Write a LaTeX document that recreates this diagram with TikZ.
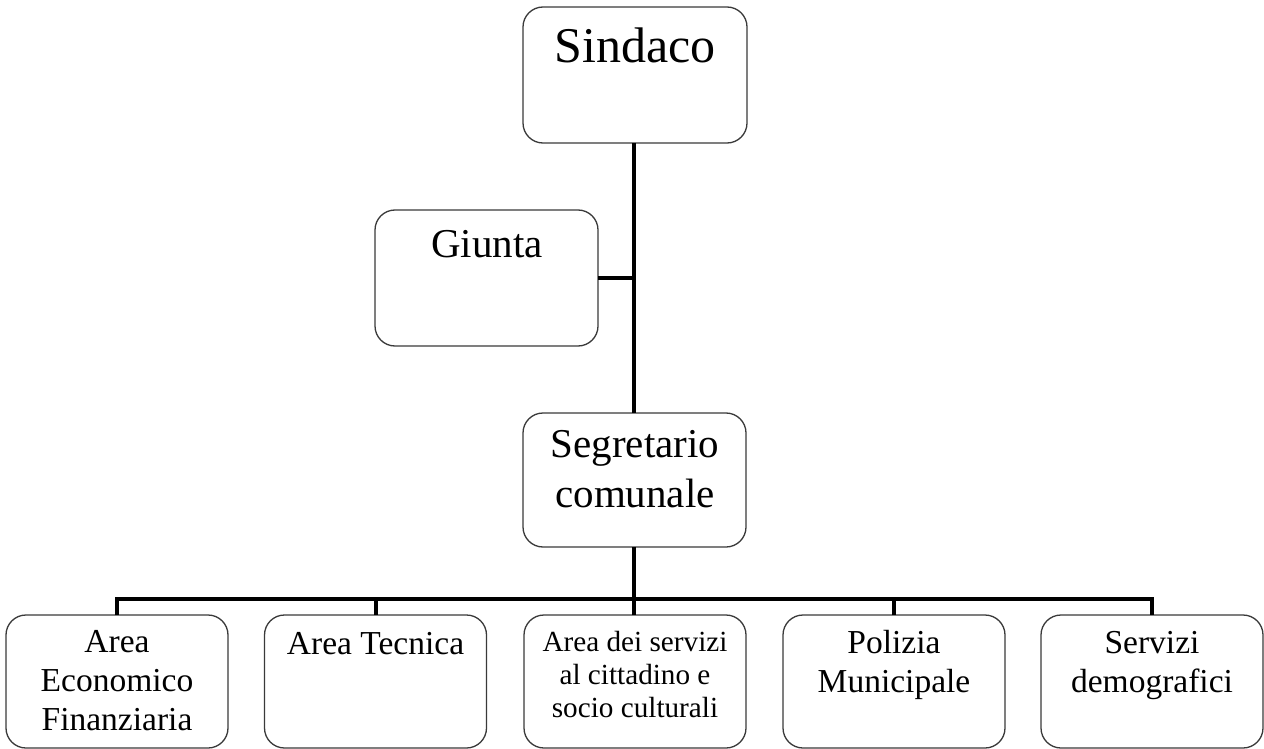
\documentclass[tikz,border=0pt]{standalone}
\usepackage{fontspec}
\setmainfont{Liberation Serif}
\definecolor{boxgray}{HTML}{3A3A3A}
\begin{document}
\begin{tikzpicture}[x=1pt,y=-1pt,
  box/.style={draw=boxgray, line width=1.3pt, rounded corners=20pt, inner sep=0pt, outer sep=0pt, fill=white},
  bottombox/.style={box, minimum width=222pt, minimum height=133pt},
  conn/.style={draw=black, line width=4pt, line join=miter},
  txt/.style={inner sep=0pt, outer sep=0pt, align=center, anchor=base},
  bigfont/.style={font=\fontsize{50}{60}\selectfont},
  midfont/.style={font=\fontsize{41}{50}\selectfont},
  smallfont/.style={font=\fontsize{33.5}{39}\selectfont},
  tinyfont/.style={font=\fontsize{29.2}{33}\selectfont}]
\useasboundingbox (0,0) rectangle (1264,749);
% boxes
\node[box, minimum width=224pt, minimum height=136pt] (sind) at (635,75) {};
\node[box, minimum width=223pt, minimum height=136pt] (giunta) at (486.5,278) {};
\node[box, minimum width=223pt, minimum height=134pt] (segr) at (634.5,480) {};
\node[bottombox] (b1) at (117,681.5) {};
\node[bottombox] (b2) at (375.5,681.5) {};
\node[bottombox] (b3) at (635,681.5) {};
\node[bottombox] (b4) at (894,681.5) {};
\node[bottombox] (b5) at (1152,681.5) {};
% texts (anchor=base is the baseline of the last line)
\node[txt, bigfont] (tsind) at (635,63) {Sindaco};
\node[txt, midfont] (tgiunta) at (487,257) {Giunta};
\node[txt, midfont] (tsegr) at (635,507) {Segretario\\comunale};
\node[txt, smallfont] (tb1) at (117,730) {Area\\Economico\\Finanziaria};
\node[txt, smallfont] (tb2) at (375.5,654) {Area Tecnica};
\node[txt, tinyfont] (tb3) at (635,717) {Area dei servizi\\al cittadino e\\socio culturali};
\node[txt, smallfont] (tb4) at (894,692) {Polizia\\Municipale};
\node[txt, smallfont] (tb5) at (1152,692) {Servizi\\demografici};
% connectors
\coordinate (bus) at (634,599);
\draw[conn] (sind.south -| bus) -- (segr.north -| bus);
\draw[conn] (giunta.east) -- (giunta.east -| bus);
\draw[conn] (segr.south -| bus) -- (bus);
\draw[conn] (b1.north) -- (b1.north |- bus) -- (b5.north |- bus) -- (b5.north);
\draw[conn] (b2.north) -- (b2.north |- bus);
\draw[conn] (b3.north -| bus) -- (bus);
\draw[conn] (b4.north) -- (b4.north |- bus);
\end{tikzpicture}
\end{document}
